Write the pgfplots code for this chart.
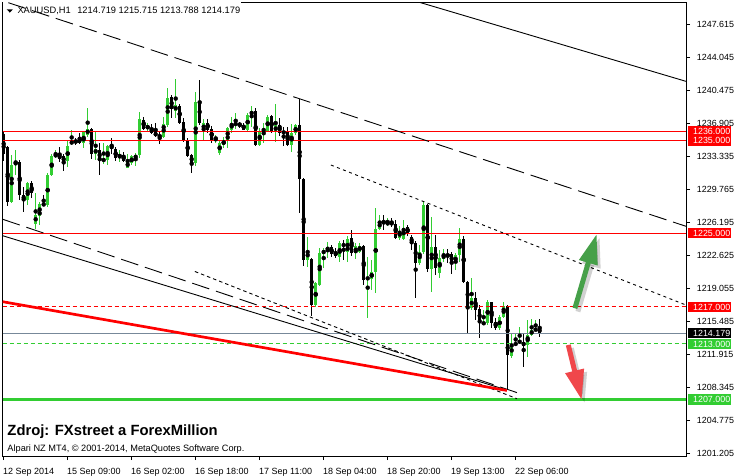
\documentclass[border=0pt]{standalone}
\usepackage{pgfplots}
\pgfplotsset{compat=1.18}
\usepackage{pgfplotstable}
\usepackage{fontspec}
\setmainfont{Liberation Sans}
\usetikzlibrary{arrows.meta}

\definecolor{cgreen}{HTML}{32CD32}
\definecolor{bidgray}{HTML}{778899}
\definecolor{arrgreen}{HTML}{46A049}
\definecolor{arrred}{HTML}{F0474B}

% bullish (green) candles: bar index, open, high, low, close
\pgfplotstableread{
k o h l c
2 1228.4 1233.4 1228.3 1232.4
3 1232.4 1234.0 1231.3 1232.7
6 1228.6 1230.5 1228.0 1230.4
8 1226.0 1229.3 1225.4 1227.0
9 1226.9 1228.4 1225.9 1228.2
11 1228.0 1231.5 1227.8 1231.3
12 1231.3 1233.6 1231.2 1233.3
13 1233.3 1234.0 1233.1 1233.5
16 1232.8 1235.1 1232.1 1234.4
17 1234.6 1236.2 1234.5 1235.0
20 1234.7 1236.1 1234.2 1235.9
21 1235.6 1238.5 1235.4 1236.3
23 1233.6 1236.0 1232.9 1234.1
25 1232.8 1234.7 1232.5 1233.0
26 1232.9 1234.5 1232.4 1234.4
29 1233.1 1234.0 1232.7 1233.5
31 1232.1 1233.6 1232.0 1232.7
32 1232.6 1233.4 1232.4 1233.3
33 1233.1 1233.7 1232.3 1233.4
34 1233.4 1238.1 1233.1 1237.3
36 1236.3 1236.9 1236.0 1236.6
40 1235.4 1237.6 1235.3 1236.8
41 1236.7 1240.7 1236.5 1239.6
43 1238.2 1241.7 1237.4 1238.8
48 1232.6 1240.3 1232.3 1239.2
50 1236.1 1237.4 1235.1 1236.9
53 1235.1 1235.6 1234.7 1235.4
54 1233.7 1235.1 1233.4 1234.7
55 1234.5 1235.4 1234.2 1235.1
56 1235.1 1236.5 1234.2 1236.4
57 1236.2 1237.6 1235.8 1236.9
58 1236.7 1238.0 1236.3 1236.9
61 1236.2 1238.0 1236.0 1237.8
62 1237.8 1238.8 1236.5 1238.2
64 1234.5 1236.4 1234.4 1236.1
65 1236.0 1236.9 1234.7 1236.3
66 1236.0 1237.8 1235.9 1237.6
68 1235.9 1239.0 1234.8 1236.7
72 1234.5 1236.8 1233.8 1235.8
73 1235.8 1236.8 1235.6 1236.7
76 1222.1 1224.6 1221.3 1223.1
78 1217.2 1219.7 1217.0 1219.6
79 1219.4 1223.4 1219.3 1222.8
80 1222.7 1223.4 1221.2 1223.2
81 1223.1 1224.0 1222.3 1223.5
84 1222.4 1224.1 1221.9 1223.9
86 1223.0 1224.7 1221.9 1224.4
88 1222.8 1223.9 1222.2 1223.6
89 1223.0 1223.9 1222.8 1223.6
91 1220.0 1222.4 1215.8 1220.2
92 1220.0 1222.1 1218.8 1220.8
93 1220.8 1227.7 1218.5 1225.5
94 1225.4 1227.0 1225.3 1226.3
96 1226.0 1226.6 1225.8 1226.1
99 1224.5 1225.8 1224.3 1225.2
100 1224.4 1226.4 1224.3 1225.6
104 1221.8 1223.7 1221.6 1223.0
105 1222.9 1228.5 1222.7 1228.0
107 1221.1 1226.7 1218.6 1223.5
109 1220.7 1223.2 1220.1 1222.3
110 1222.2 1223.3 1221.9 1222.7
113 1221.8 1222.8 1221.0 1222.6
114 1222.6 1225.6 1221.9 1224.4
117 1216.9 1220.1 1216.7 1218.0
120 1215.2 1216.7 1215.1 1215.3
121 1215.3 1217.8 1215.1 1217.5
124 1214.7 1216.1 1214.5 1215.9
125 1215.9 1217.6 1215.8 1217.1
127 1211.7 1214.2 1211.5 1212.9
128 1212.9 1214.2 1212.8 1213.1
129 1213.1 1214.8 1213.0 1213.4
131 1212.9 1215.6 1211.6 1214.0
132 1214.0 1215.7 1213.9 1214.5
133 1214.4 1215.6 1214.4 1214.7
}\bull

% bearish (black) candles
\pgfplotstableread{
k o h l c
0 1235.7 1235.9 1232.8 1233.6
1 1234.3 1234.4 1227.9 1228.4
4 1232.7 1232.9 1228.6 1229.1
5 1229.1 1230.0 1227.3 1228.6
7 1230.4 1230.6 1228.8 1229.3
10 1228.2 1229.1 1227.9 1228.0
14 1233.5 1234.3 1232.7 1233.0
15 1233.3 1233.6 1231.7 1232.7
18 1235.0 1235.3 1234.5 1234.8
19 1235.4 1235.8 1234.6 1234.7
22 1236.3 1236.4 1233.0 1233.6
24 1234.0 1234.7 1231.3 1232.9
27 1234.5 1235.3 1233.6 1234.1
28 1234.1 1234.3 1232.8 1233.1
30 1233.4 1233.8 1232.7 1232.8
35 1237.2 1237.5 1236.2 1236.3
37 1236.4 1236.8 1235.7 1235.8
38 1235.9 1236.9 1235.4 1235.5
39 1235.6 1236.0 1234.6 1235.4
42 1239.7 1239.9 1237.4 1238.4
44 1238.8 1239.0 1236.8 1236.9
45 1237.0 1237.4 1234.9 1235.1
46 1235.1 1235.3 1233.2 1233.3
47 1233.4 1233.5 1231.5 1232.6
49 1239.3 1241.6 1236.7 1236.9
51 1236.9 1237.4 1235.8 1236.2
52 1236.3 1236.6 1234.7 1235.1
59 1236.9 1237.0 1236.4 1236.6
60 1236.7 1236.9 1236.1 1236.2
63 1238.2 1238.5 1234.4 1234.5
67 1237.7 1237.8 1235.8 1235.9
69 1236.7 1237.4 1235.5 1235.8
70 1236.0 1236.5 1234.4 1235.8
71 1235.9 1236.5 1234.4 1234.5
74 1236.7 1239.5 1227.2 1230.8
75 1230.9 1231.0 1221.4 1222.1
77 1222.2 1222.3 1216.0 1217.2
82 1223.5 1223.7 1222.4 1222.7
83 1223.0 1223.4 1222.3 1222.5
85 1223.8 1224.3 1222.1 1223.6
87 1224.5 1225.3 1222.5 1222.8
90 1223.6 1223.7 1219.4 1219.9
95 1226.3 1227.0 1225.3 1226.1
97 1226.2 1226.6 1225.7 1225.9
98 1226.0 1226.4 1224.4 1224.5
101 1225.7 1225.9 1224.7 1224.9
102 1224.6 1224.8 1223.2 1223.9
103 1223.9 1224.1 1218.0 1221.8
106 1228.0 1228.2 1220.8 1221.1
108 1223.5 1224.8 1220.5 1221.2
111 1222.7 1223.3 1221.8 1222.5
112 1222.7 1223.0 1220.6 1221.8
115 1224.4 1224.7 1219.6 1219.7
116 1219.7 1219.8 1214.1 1217.0
118 1218.0 1218.6 1215.6 1216.7
119 1216.8 1217.2 1213.7 1215.3
122 1217.5 1217.6 1214.7 1215.3
123 1215.4 1215.8 1214.5 1214.7
126 1217.1 1217.2 1208.0 1211.8
130 1213.2 1214.2 1210.5 1212.8
134 1214.719 1215.715 1213.788 1214.179
}\bear

\newcommand{\smallfont}{\fontsize{8.9pt}{10pt}\selectfont}
\newcommand{\pricelabel}[3]{%
  \fill[#2] ([xshift=1.7pt,yshift=-5.3pt]axis cs:170.575,#1) rectangle ([xshift=45pt,yshift=5.3pt]axis cs:170.575,#1);
  \node[anchor=west, inner sep=0pt, text=white, font=\smallfont] at ([xshift=6.9pt]axis cs:170.575,#1) {#3};%
}

\begin{document}
\begin{tikzpicture}
\useasboundingbox (0,0) rectangle (734pt,475pt);
\begin{axis}[
  at={(2.5pt,19pt)}, anchor=south west,
  scale only axis, width=683.5pt, height=453.5pt,
  xmin=-0.3, xmax=170.575, ymin=1200.88, ymax=1249.94,
  clip=false,
  axis line style={draw=none},
  tick align=outside, major tick length=4pt,
  tick style={black, line width=0.8pt},
  xtick pos=left, ytick pos=right, yticklabel pos=right,
  xtick={-0.175,15.825,31.825,47.825,63.825,79.825,95.825,111.825,127.825},
  xticklabels={12 Sep 2014,15 Sep 09:00,16 Sep 02:00,16 Sep 18:00,17 Sep 11:00,18 Sep 04:00,18 Sep 20:00,19 Sep 13:00,22 Sep 06:00},
  xticklabel style={anchor=base west, inner sep=0pt, font=\fontsize{9pt}{10pt}\selectfont, yshift=-14pt},
  ytick={1201.205,1204.775,1208.345,1211.915,1215.485,1219.055,1222.625,1226.195,1229.765,1233.335,1236.905,1240.475,1244.045,1247.615},
  yticklabels={1201.205,1204.775,1208.345,1211.915,1215.485,1219.055,1222.625,1226.195,1229.765,1233.335,1236.905,1240.475,1244.045,1247.615},
  yticklabel style={anchor=west, inner sep=0pt, font=\smallfont, xshift=6.7pt},
]
% frame
\draw[black, line width=1pt] (rel axis cs:0,1) -- (rel axis cs:0,0) -- (rel axis cs:1,0) -- (rel axis cs:1,1);
\draw[black, line width=1pt] (axis cs:59.3,1249.94) -- (axis cs:170.575,1249.94);

% wicks
\addplot[only marks, mark=none, forget plot,
  error bars/.cd, y dir=both, y explicit, error mark=none,
  error bar style={line width=1pt, draw=cgreen}]
  table[x=k, y expr={(\thisrow{h}+\thisrow{l})/2}, y error expr={(\thisrow{h}-\thisrow{l})/2}] {\bull};
\addplot[only marks, mark=none, forget plot,
  error bars/.cd, y dir=both, y explicit, error mark=none,
  error bar style={line width=1pt, draw=black}]
  table[x=k, y expr={(\thisrow{h}+\thisrow{l})/2}, y error expr={(\thisrow{h}-\thisrow{l})/2}] {\bear};
% bodies
\addplot[only marks, mark=none, forget plot,
  error bars/.cd, y dir=both, y explicit, error mark=none,
  error bar style={line width=3.1pt, draw=cgreen}]
  table[x=k, y expr={(\thisrow{o}+\thisrow{c})/2}, y error expr={max(abs(\thisrow{o}-\thisrow{c})/2,0.05)}] {\bull};
\addplot[only marks, mark=none, forget plot,
  error bars/.cd, y dir=both, y explicit, error mark=none,
  error bar style={line width=3.1pt, draw=black}]
  table[x=k, y expr={(\thisrow{o}+\thisrow{c})/2}, y error expr={max(abs(\thisrow{o}-\thisrow{c})/2,0.05)}] {\bear};

% horizontal levels
\addplot[red, line width=1pt, forget plot] coordinates {(-0.3,1236) (170.575,1236)};
\addplot[red, line width=1pt, forget plot] coordinates {(-0.3,1235) (170.575,1235)};
\addplot[red, line width=1pt, forget plot] coordinates {(-0.3,1225) (170.575,1225)};
\addplot[red, line width=1pt, dash pattern=on 4pt off 3pt, forget plot] coordinates {(-0.3,1217) (170.575,1217)};
\addplot[bidgray, line width=1pt, forget plot] coordinates {(-0.3,1214.179) (170.575,1214.179)};
\addplot[cgreen, line width=1pt, dash pattern=on 4pt off 3pt, forget plot] coordinates {(-0.3,1213) (170.575,1213)};
\addplot[cgreen, line width=2.8pt, forget plot] coordinates {(-0.3,1207) (170.575,1207)};

% channel lines
\addplot[black, line width=0.9pt, forget plot] coordinates {(104.1,1249.94) (170.575,1241.41)};
\addplot[black, line width=0.9pt, dash pattern=on 18pt off 7pt, forget plot] coordinates {(1.15,1249.92) (170.575,1225.73)};
\addplot[black, line width=0.9pt, dash pattern=on 3pt off 3.5pt, forget plot] coordinates {(81.8,1232.36) (170.575,1217.21)};
\addplot[black, line width=0.9pt, forget plot] coordinates {(-0.25,1224.71) (125.8,1208.02)};
\addplot[black, line width=0.9pt, dash pattern=on 18pt off 7pt, forget plot] coordinates {(-0.25,1226.49) (128.3,1207.74)};
\addplot[black, line width=0.9pt, dash pattern=on 3.5pt off 3pt, forget plot] coordinates {(47.8,1220.84) (128.3,1207.08)};
\addplot[red, line width=2.7pt, forget plot] coordinates {(-0.25,1217.57) (125.8,1207.97)};

% arrows (shadow, then arrow)
\addplot[black, opacity=0.18, line width=5pt, -{Triangle[length=30pt,width=18pt]}, forget plot] coordinates {(143.55,1216.5) (149.0,1224.55)};
\addplot[arrgreen, line width=5pt, -{Triangle[length=30pt,width=18pt]}, forget plot] coordinates {(142.8,1216.86) (148.25,1224.90)};
\addplot[black, opacity=0.18, line width=5pt, -{Triangle[length=30pt,width=18pt]}, forget plot] coordinates {(141.9,1212.55) (145.25,1206.6)};
\addplot[arrred, line width=5pt, -{Triangle[length=30pt,width=18pt]}, forget plot] coordinates {(141.15,1212.89) (144.5,1206.94)};

% price labels on the right
\pricelabel{1236}{red}{1236.000}
\pricelabel{1235}{red}{1235.000}
\pricelabel{1225}{red}{1225.000}
\pricelabel{1217}{red}{1217.000}
\pricelabel{1214.179}{black}{1214.179}
\pricelabel{1213}{cgreen}{1213.000}
\pricelabel{1207}{cgreen}{1207.000}
\end{axis}

% header and footer texts
\fill (6.7pt,465.7pt) -- (12.9pt,465.7pt) -- (9.8pt,462.4pt) -- cycle;
\node[anchor=base west, inner sep=0pt, font=\fontsize{9.3pt}{11pt}\selectfont] at (17.3pt,461pt) {XAUUSD,H1\hspace{6.6pt}1214.719 1215.715 1213.788 1214.179};
\node[anchor=base west, inner sep=0pt, font=\bfseries\fontsize{14.8pt}{16pt}\selectfont] at (7.3pt,39.3pt) {Zdroj: FXstreet a ForexMillion};
\node[anchor=base west, inner sep=0pt, font=\fontsize{9.2pt}{10pt}\selectfont] at (7.3pt,23.5pt) {Alpari NZ MT4, © 2001-2014, MetaQuotes Software Corp.};
\end{tikzpicture}
\end{document}
